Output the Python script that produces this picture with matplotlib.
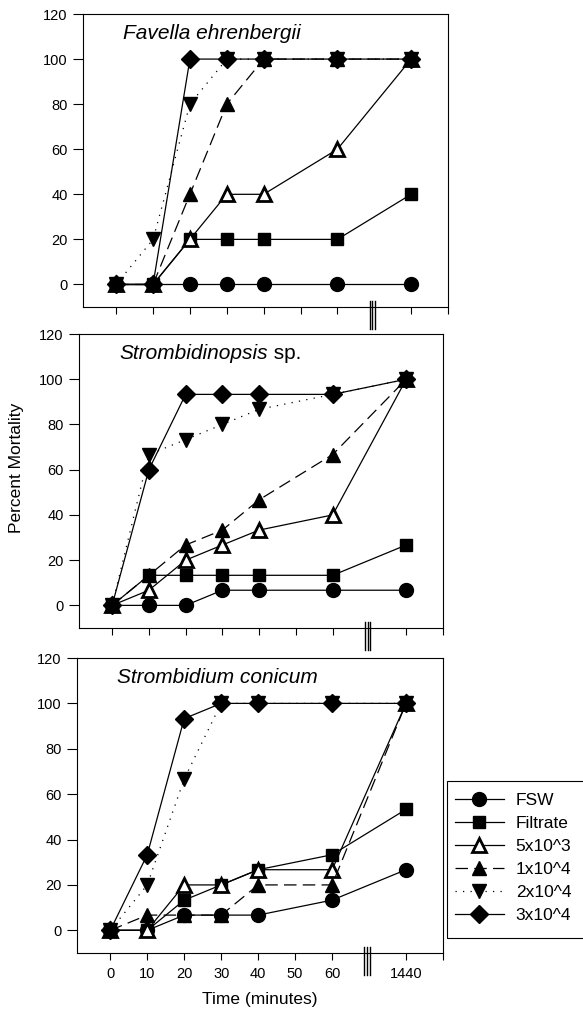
import numpy as np
import matplotlib
matplotlib.use("Agg")
import matplotlib.pyplot as plt
import matplotlib.transforms as mtransforms
from matplotlib.patches import Rectangle

plt.rcParams['font.family'] = ['Liberation Sans', 'DejaVu Sans']
plt.rcParams['font.size'] = 10

W, H = 583, 1019

# sampling times (minutes); 1440 sits after the axis break
time_min = [0, 10, 20, 30, 40, 60, 1440]
tick_labels = ['0', '10', '20', '30', '40', '50', '60', '1440']
tick_minutes = [0, 10, 20, 30, 40, 50, 60, 1440]

series_names = ['FSW', 'Filtrate', '5x10^3', '1x10^4', '2x10^4', '3x10^4']

# Favella ehrenbergii
fav_fsw = [0, 0, 0, 0, 0, 0, 0]
fav_filtrate = [0, 0, 20, 20, 20, 20, 40]
fav_5e3 = [0, 0, 20, 40, 40, 60, 100]
fav_1e4 = [0, 0, 40, 80, 100, 100, 100]
fav_2e4 = [0, 20, 80, 100, 100, 100, 100]
fav_3e4 = [0, 0, 100, 100, 100, 100, 100]

# Strombidinopsis sp.
stp_fsw = [0, 0, 0, 6.7, 6.7, 6.7, 6.7]
stp_filtrate = [0, 13.3, 13.3, 13.3, 13.3, 13.3, 26.7]
stp_5e3 = [0, 6.7, 20, 26.7, 33.3, 40, 100]
stp_1e4 = [0, 13.3, 26.7, 33.3, 46.7, 66.7, 100]
stp_2e4 = [0, 66.7, 73.3, 80, 86.7, 93.3, 100]
stp_3e4 = [0, 60, 93.3, 93.3, 93.3, 93.3, 100]

# Strombidium conicum
stc_fsw = [0, 0, 6.7, 6.7, 6.7, 13.3, 26.7]
stc_filtrate = [0, 0, 13.3, 20, 26.7, 33.3, 53.3]
stc_5e3 = [0, 0, 20, 20, 26.7, 26.7, 100]
stc_1e4 = [0, 6.7, 6.7, 6.7, 20, 20, 100]
stc_2e4 = [0, 20, 66.7, 100, 100, 100, 100]
stc_3e4 = [0, 33.3, 93.3, 100, 100, 100, 100]

panels = [
    ('Favella ehrenbergii', '', [fav_fsw, fav_filtrate, fav_5e3, fav_1e4, fav_2e4, fav_3e4]),
    ('Strombidinopsis', ' sp.', [stp_fsw, stp_filtrate, stp_5e3, stp_1e4, stp_2e4, stp_3e4]),
    ('Strombidium conicum', '', [stc_fsw, stc_filtrate, stc_5e3, stc_1e4, stc_2e4, stc_3e4]),
]

# axes boxes in pixels: left, right, top, bottom
boxes = [(83, 448, 14, 307), (79, 443, 334, 628), (77, 443, 658, 953)]

styles = [
    dict(marker='o', ms=10, mfc='black', ls='-'),
    dict(marker='s', ms=9, mfc='black', ls='-'),
    dict(marker='^', ms=10, mfc='white', mew=2.0, ls='-'),
    dict(marker='^', ms=10, mfc='black', ls=(0, (10, 5))),
    dict(marker='v', ms=10, mfc='black', ls=(0, (1, 5))),
    dict(marker='D', ms=9.5, mfc='black', ls='-'),
]


def axis_pos(t):
    # broken time axis: 1440 min is drawn at position 80
    t = np.asarray(t, dtype=float)
    return np.where(t > 60, 80, t)


x = axis_pos(time_min)
BREAK_X = 69.5

fig = plt.figure(figsize=(W / 100, H / 100), dpi=100)

for i, ((name, suffix, data), (l, r, t, b)) in enumerate(zip(panels, boxes)):
    ax = fig.add_axes([l / W, (H - b) / H, (r - l) / W, (b - t) / H])
    handles = []
    for vals, st, lab in zip(data, styles, series_names):
        h, = ax.plot(x, vals, color='black', lw=0.9, mec='black',
                     label=lab, clip_on=False, **st)
        handles.append(h)

    ax.set_xlim(-9, 90)
    ax.set_ylim(-10, 120)
    ax.set_yticks(range(0, 121, 20))
    ax.set_xticks(list(axis_pos(tick_minutes)) + [90])
    if i == 2:
        ax.set_xticklabels(tick_labels + [''])
        ax.set_xlabel('Time (minutes)', fontsize=12.5, labelpad=8)
    else:
        ax.set_xticklabels([])
    ax.tick_params(axis='y', direction='out', length=7, width=0.8,
                   labelsize=10.5, pad=4)
    ax.tick_params(axis='x', direction='out', length=5, width=0.8,
                   labelsize=10.5, pad=5)
    for s in ax.spines.values():
        s.set_linewidth(0.8)

    tr = mtransforms.blended_transform_factory(ax.transData, ax.transAxes)
    hpx = b - t
    for dx in (-0.75, 0, 0.75):
        ax.plot([BREAK_X + dx, BREAK_X + dx], [6 / hpx, -22 / hpx],
                transform=tr, color='black', lw=1.0, clip_on=False)

    tx = ax.text(0.11, 0.965, name, transform=ax.transAxes, fontsize=15,
                 style='italic', va='top', ha='left')
    if suffix:
        ax.annotate(suffix, xy=(1, 0), xycoords=tx, fontsize=15,
                    va='bottom', ha='left')

fig.text(17 / W, 1 - 468 / H, 'Percent Mortality', rotation=90,
         fontsize=12.5, ha='center', va='center')

# legend frame runs off the right edge of the figure
fig.patches.append(Rectangle((447 / W, 1 - 938 / H), 0.3, (938 - 781) / H,
                             transform=fig.transFigure, fill=False,
                             edgecolor='black', lw=0.8))
fig.legend(handles, series_names, loc='upper left',
           bbox_to_anchor=(455 / W, 1 - 793 / H), fontsize=12.5,
           frameon=False, handlelength=2.8, labelspacing=0.45,
           borderpad=0, handletextpad=0.7, borderaxespad=0)

fig.savefig('out.png', dpi=100)
